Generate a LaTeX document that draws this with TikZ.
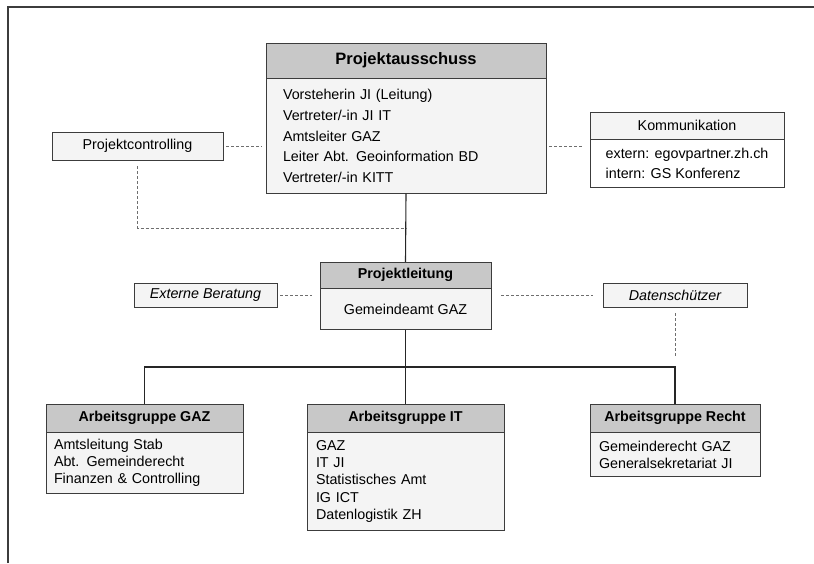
\documentclass[tikz,border=0pt]{standalone}
\usepackage{fontspec}
\setmainfont{Liberation Sans}
\usepackage{tikz}
\usetikzlibrary{shapes,arrows,positioning}

\definecolor{headgray}{HTML}{C8C8C8}
\definecolor{bodygray}{HTML}{F4F4F4}
\definecolor{linegray}{HTML}{3C3C3C}
\definecolor{dashgray}{HTML}{6E6E6E}

\begin{document}
\begin{tikzpicture}[x=1pt,y=-1pt,
  head/.style={draw=linegray, fill=headgray, align=center, inner sep=0pt,
    font=\fontsize{14.3pt}{17pt}\selectfont\bfseries},
  body/.style={draw=linegray, fill=bodygray, align=left, inner sep=0pt,
    font=\fontsize{14.3pt}{17pt}\selectfont},
  plain/.style={draw=linegray, fill=bodygray, align=center, inner sep=0pt,
    font=\fontsize{14.3pt}{17pt}\selectfont},
  link/.style={draw=black!85, line width=1.1pt},
  hint/.style={draw=dashgray, line width=1pt, dash pattern=on 3pt off 2pt}
  ]
  \useasboundingbox (0,0) rectangle (814,563);
  % frame
  \draw[linegray, line width=1.3pt] (8,563) -- (8,7) -- (814,7);

  % Projektausschuss
  \node[head, minimum width=280pt, minimum height=35pt,
    font=\fontsize{16.5pt}{20pt}\selectfont\bfseries] (pa) at (406,60.5) {Projektausschuss};
  \node[body, below=0pt of pa, text width=246pt, inner xsep=17pt,
    minimum height=115pt, font=\fontsize{14.3pt}{20.75pt}\selectfont] (pab) {%
    Vorsteherin JI (Leitung)\\
    Vertreter/-in JI IT\\
    Amtsleiter GAZ\\
    Leiter Abt. Geoinformation BD\\
    Vertreter/-in KITT};

  \node[plain, minimum width=171pt, minimum height=28pt] (pc) at (137.5,146) {Projektcontrolling};

  % Kommunikation
  \node[plain, minimum width=194pt, minimum height=27pt] (kom) at (687,125.5) {Kommunikation};
  \node[body, below=0pt of kom, fill=white, minimum width=194pt,
    minimum height=48pt, font=\fontsize{14.3pt}{20pt}\selectfont] (komb) {%
    extern: egovpartner.zh.ch\\
    intern: GS Konferenz};

  % Projektleitung
  \node[head, minimum width=171pt, minimum height=26pt] (pl) at (405.5,275) {Projektleitung};
  \node[plain, below=0pt of pl, minimum width=171pt, minimum height=41pt] (plb) {Gemeindeamt GAZ};

  \node[plain, minimum width=143pt, minimum height=24pt,
    font=\fontsize{14.3pt}{17pt}\selectfont\itshape] (eb) at (205.5,295) {Externe Beratung};
  \node[plain, minimum width=144pt, minimum height=24pt,
    font=\fontsize{14.3pt}{17pt}\selectfont\itshape] (ds) at (675,295) {Datenschützer};

  % Arbeitsgruppen
  \node[head, minimum width=197pt, minimum height=28pt] (ag1) at (144.5,418) {Arbeitsgruppe GAZ};
  \node[body, below=0pt of ag1, text width=181pt, inner xsep=8pt,
    minimum height=61pt] (ag1b) {%
    Amtsleitung Stab\\
    Abt. Gemeinderecht\\
    Finanzen \& Controlling};

  \node[head, minimum width=197pt, minimum height=28pt] (ag2) at (405.5,418) {Arbeitsgruppe IT};
  \node[body, below=0pt of ag2, text width=179pt, inner xsep=9pt,
    minimum height=98pt, font=\fontsize{14.3pt}{17.25pt}\selectfont] (ag2b) {%
    GAZ\\
    IT JI\\
    Statistisches Amt\\
    IG ICT\\
    Datenlogistik ZH};

  \node[head, minimum width=170pt, minimum height=28pt] (ag3) at (675,418) {Arbeitsgruppe Recht};
  \node[body, below=0pt of ag3, text width=152pt, inner xsep=9pt,
    minimum height=44pt] (ag3b) {%
    Gemeinderecht GAZ\\
    Generalsekretariat JI};

  % connectors
  \coordinate (bus) at (406,367);
  \coordinate (pcjoin) at (406,228);
  \draw[link] (pab.south) -- (pl.north);
  \draw[link] (plb.south) -- (ag2.north);
  \draw[link] (ag1.north) |- (bus) -| (ag3.north);

  \draw[hint, shorten <=3pt, shorten >=4pt] (pc.east) -- (pc.east -| pab.west);
  \draw[hint, shorten <=3pt, shorten >=6pt] (pab.east |- pc.east) -- (komb.west |- pc.east);
  \draw[hint, shorten <=6pt] (pc.south) |- (pcjoin);
  \draw[hint, shorten <=3pt, shorten >=8pt] (eb.east) -- (eb.east -| plb.west);
  \draw[hint, shorten <=10pt, shorten >=10pt] (eb.east -| plb.east) -- (ds.west);
  \draw[hint, shorten <=6pt, shorten >=11pt] (ds.south) -- (ds.south |- bus);
\end{tikzpicture}
\end{document}
